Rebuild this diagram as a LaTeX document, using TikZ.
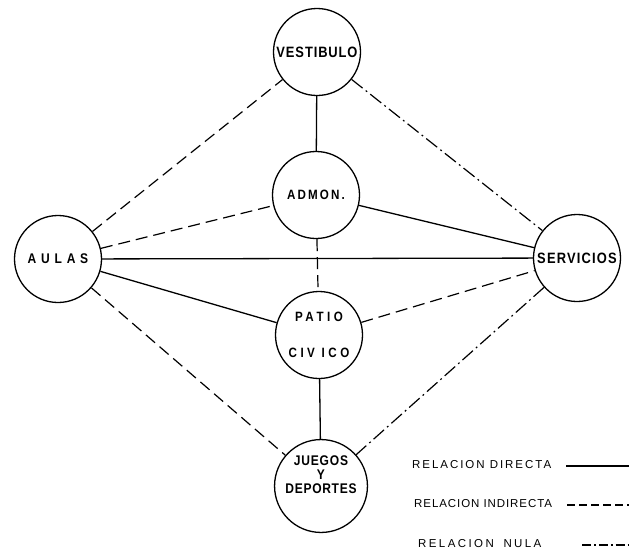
\documentclass[tikz,border=0pt]{standalone}
\usepackage{fontspec}
\setmainfont{Liberation Sans}
\newfontfamily\nodefont[FakeStretch=0.86]{Liberation Sans}
\newcommand\lsp[1]{\addfontfeature{LetterSpace=#1}}
\tikzset{
  place/.style={circle, draw, line width=1.3pt, minimum size=87pt, inner sep=0pt, align=center,
    font=\nodefont\bfseries\fontsize{15}{18}\selectfont},
  rdir/.style={line width=1.3pt},
  rind/.style={line width=1.2pt, dash pattern=on 12pt off 6pt},
  rnul/.style={line width=1.2pt, dash pattern=on 14pt off 4pt on 1.8pt off 4pt},
  legtext/.style={anchor=west, inner sep=0pt, font=\fontsize{11.5}{14}\selectfont},
}
\begin{document}
\begin{tikzpicture}[x=1pt,y=-1pt]
\useasboundingbox (0,0) rectangle (639,552);
\node[place] (V)  at (317,52)  {\lsp{6}VESTIBULO};
\node[place] (Ad) at (316,195) {\fontsize{13.5}{16}\selectfont\lsp{16}ADMON.};
\node[place] (A)  at (58,259)  {\fontsize{14}{16}\selectfont\lsp{34}AULAS};
\node[place] (S)  at (577,258) {\lsp{8}SERVICIOS};
\node[place] (P)  at (319,335) {\fontsize{13.5}{16}\selectfont\lsp{26}PATIO\\[18pt]\fontsize{13.5}{16}\selectfont\lsp{26}CIV ICO};
\node[place] (J)  at (321,486) {\fontsize{14}{16}\selectfont\lsp{6}JUEGOS\\[-4pt]\fontsize{14}{16}\selectfont Y\\[-4pt]\fontsize{14}{16}\selectfont\lsp{5}DEPORTES\\[4pt]};

\draw[rdir] (V) -- (Ad);
\draw[rind] (Ad) -- (P);
\draw[rdir] (P) -- (J);
\draw[rind] (A) -- (V);
\draw[rind] (A) -- (Ad);
\draw[rdir] (A) -- (S);
\draw[rdir] (A) -- (P);
\draw[rind] (A) -- (J);
\draw[rnul] (V) -- (S);
\draw[rdir] (Ad) -- (S);
\draw[rind] (P) -- (S);
\draw[rnul] (S) -- (J);

\node[legtext] (l1) at (412,465) {\lsp{17}RELACION DIRECTA};
\node[legtext] (l2) at (414,504) {\lsp{8}RELACION INDIRECTA};
\node[legtext] (l3) at (418,544) {\lsp{21}RELACION\hspace{4pt} NULA};
\coordinate (e1a) at (566,466); \coordinate (e1b) at (629,466);
\coordinate (e2a) at (567,505); \coordinate (e2b) at (629,505);
\coordinate (e3a) at (582,545); \coordinate (e3b) at (629,545);
\draw[rdir] (e1a) -- (e1b);
\draw[rind, dash pattern=on 8pt off 4pt] (e2a) -- (e2b);
\draw[rnul, dash pattern=on 9pt off 3pt on 1.8pt off 3pt] (e3a) -- (e3b);
\end{tikzpicture}
\end{document}
